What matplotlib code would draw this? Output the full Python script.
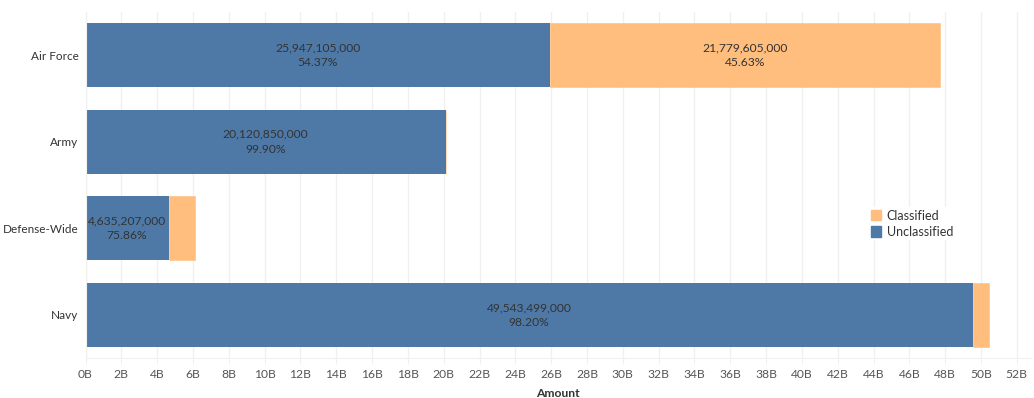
import matplotlib
matplotlib.use("Agg")
import matplotlib.pyplot as plt
from matplotlib.ticker import FuncFormatter, MultipleLocator
from matplotlib.patches import Patch

categories = ["Air Force", "Army", "Defense-Wide", "Navy"]
unclassified = [25947105000, 20120850000, 4635207000, 49543499000]
classified = [21779605000, 20140000, 1475000000, 908000000]

blue = "#4e79a7"
orange = "#ffbe7d"
grid_c = "#f0f0f0"
text_c = "#333333"

plt.rcParams["font.family"] = ["Lato", "DejaVu Sans"]

fig = plt.figure(figsize=(10.34, 3.98), dpi=100)
ax = fig.add_axes([0.0827, 0.1005, 0.9145, 0.8695])

y = list(range(len(categories)))
ax.barh(y, unclassified, height=0.74, color=blue, zorder=2)
ax.barh(y, classified, left=unclassified, height=0.74, color=orange, zorder=2,
        edgecolor=orange, linewidth=0.4)

for i, (u, c) in enumerate(zip(unclassified, classified)):
    tot = u + c
    for left, val in ((0, u), (u, c)):
        if val > 3e9:
            ax.text(left + val / 2, i, f"{val:,.0f}\n{val / tot * 100:.2f}%",
                    ha="center", va="center", fontsize=8.7, color=text_c,
                    linespacing=1.4, zorder=3)

ax.set_ylim(3.5, -0.5)
ax.set_xlim(0, 52.8e9)
ax.set_yticks(y)
ax.set_yticklabels(categories)
ax.xaxis.set_major_locator(MultipleLocator(2e9))
ax.xaxis.set_major_formatter(FuncFormatter(lambda v, p: f"{v / 1e9:.0f}B"))
ax.grid(axis="x", color=grid_c, linewidth=1, zorder=0)
ax.set_axisbelow(True)
for s in ("top", "right"):
    ax.spines[s].set_visible(False)
ax.spines["bottom"].set_color(grid_c)
ax.spines["left"].set_color(grid_c)
ax.tick_params(axis="x", colors=grid_c, length=4, labelcolor="#555555", labelsize=8.7, pad=4)
ax.tick_params(axis="y", length=0, labelcolor=text_c, labelsize=8.5, pad=5)
ax.set_xlabel("Amount", fontsize=8.7, fontweight="bold", color=text_c, labelpad=6)

handles = [Patch(color=orange, label="Classified"), Patch(color=blue, label="Unclassified")]
leg = ax.legend(handles=handles, loc="upper left", bbox_to_anchor=(0.828, 0.436),
                frameon=True, fontsize=9, handlelength=0.8, handleheight=0.9,
                handletextpad=0.45, labelspacing=0.35, borderpad=0.2,
                borderaxespad=0)
leg.get_frame().set_edgecolor("none")
leg.get_frame().set_facecolor("white")
leg.get_frame().set_alpha(1)
for t in leg.get_texts():
    t.set_color(text_c)

fig.savefig("out.png", dpi=100)
